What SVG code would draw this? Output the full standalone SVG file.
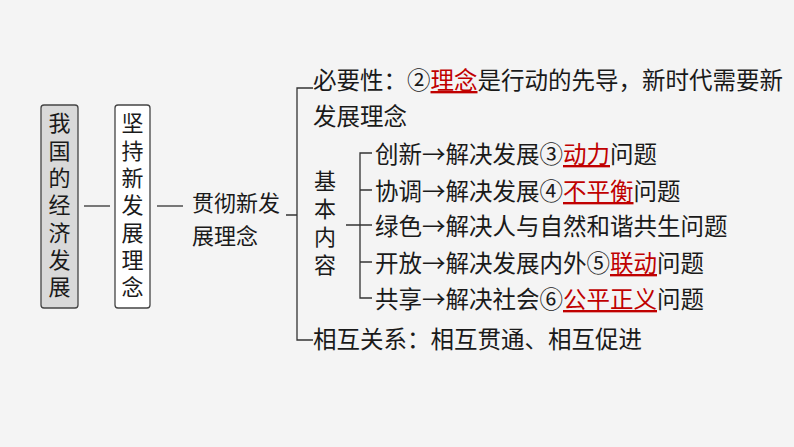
<svg xmlns="http://www.w3.org/2000/svg" width="794" height="447" viewBox="0 0 794 447">
<style>
text{font-family:"Noto Sans CJK SC","Noto Sans",sans-serif;font-size:23.5px;fill:#1a1a1a;dominant-baseline:central}
.v{font-size:22px}
.vt{font-size:22px;writing-mode:vertical-rl;letter-spacing:5.3px}
.r{fill:#c00000;text-decoration:underline}
.c{stroke:#333;stroke-width:1.3;fill:none}
.box{stroke:#444;stroke-width:1.3}
</style>
<rect width="794" height="447" fill="#f4f4f4"/>
<g id="n1"><rect class="box" x="41" y="105" width="37" height="203" rx="3" fill="#d9d9d9"/>
<text class="vt" x="59.5" y="112">我国的经济发展</text></g>
<g id="n2"><rect class="box" x="115" y="105" width="35" height="203" rx="3" fill="#fff"/>
<text class="vt" x="132.5" y="112">坚持新发展理念</text></g>
<g id="n3"><text class="v" x="192" y="201">贯彻新发</text><text class="v" x="192" y="234">展理念</text></g>
<g id="n4"><text x="313" y="79">必要性：②<tspan class="r">理念</tspan>是行动的先导，新时代需要新</text><text x="313" y="115">发展理念</text></g>
<g id="n5"><text class="vt" x="325" y="170" style="letter-spacing:6px">基本内容</text></g>
<g id="n6"><text x="375" y="153">创新→解决发展③<tspan class="r">动力</tspan>问题</text></g>
<g id="n7"><text x="375" y="190">协调→解决发展④<tspan class="r">不平衡</tspan>问题</text></g>
<g id="n8"><text x="375" y="225">绿色→解决人与自然和谐共生问题</text></g>
<g id="n9"><text x="375" y="262">开放→解决发展内外⑤<tspan class="r">联动</tspan>问题</text></g>
<g id="n10"><text x="375" y="298">共享→解决社会⑥<tspan class="r">公平正义</tspan>问题</text></g>
<g id="n11"><text x="313" y="338">相互关系：相互贯通、相互促进</text></g>
<g id="connectors" class="c">
<line x1="84" y1="206" x2="110" y2="206"/>
<line x1="157" y1="206" x2="183" y2="206"/>
<path d="M286 215H297M313 88H297V340H313"/>
<path d="M346 225H372M372 153H360V298H372M360 190H372M360 262H372"/>
</g>
</svg>
